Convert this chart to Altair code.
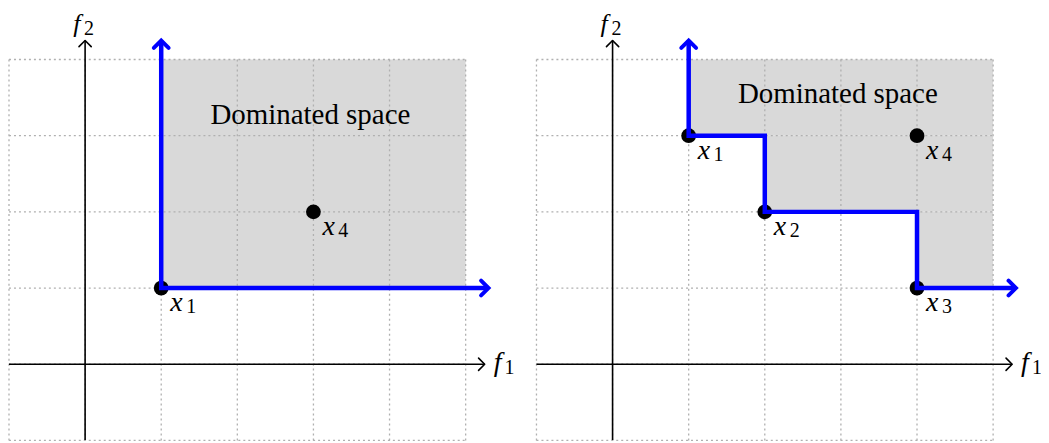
import altair as alt
import pandas as pd

# ---- data ----
grid_x = [-1, 0, 1, 2, 3, 4, 5]
grid_y = [-1, 0, 1, 2, 3, 4]
grid_xmin, grid_xmax = -1, 5
grid_ymin, grid_ymax = -1, 4
axis_end_f1 = 5.25
axis_end_f2 = 4.25

# left panel
left_names = ["1", "4"]
left_f1 = [1, 3]
left_f2 = [1, 2]
left_shade_x1 = [1]
left_shade_x2 = [5]
left_shade_y1 = [1]
left_shade_y2 = [4]
left_front_f1 = [1, 1, 5.3]
left_front_f2 = [4.25, 1, 1]
left_text_pos = (2.96, 3.154)

# right panel
right_names = ["1", "2", "3", "4"]
right_f1 = [1, 2, 4, 4]
right_f2 = [3, 2, 1, 3]
right_shade_x1 = [1, 2, 4]
right_shade_x2 = [5, 5, 5]
right_shade_y1 = [3, 2, 1]
right_shade_y2 = [4, 3, 2]
right_front_f1 = [1, 1, 2, 2, 4, 4, 5.3]
right_front_f2 = [4.25, 3, 3, 2, 2, 1, 1]
right_text_pos = (2.96, 3.43)

label_text = "Dominated space"

UNIT_X = 76.33
UNIT_Y = 76.4
W1, W2, H = 528, 470, 433
YTOP = 4.668
YDOM = [YTOP - H / UNIT_Y, YTOP]
SERIF = "'Liberation Serif', 'DejaVu Serif', 'Times New Roman', serif"
ARROW = "M-1,-1L0,0L-1,1"
MAIN_FS = 28
SUB_FS = 20


def panel(names, f1, f2, sx1, sx2, sy1, sy2, ff1, ff2, tpos, W):
    xs = alt.Scale(domain=[-1, -1 + W / UNIT_X], nice=False, zero=False)
    ys = alt.Scale(domain=YDOM, nice=False, zero=False)

    shade = pd.DataFrame({"x": sx1, "x2": sx2, "y": sy1, "y2": sy2})
    grid = pd.DataFrame(
        {"x": grid_x, "x2": grid_x, "y": [grid_ymin] * len(grid_x), "y2": [grid_ymax] * len(grid_x)}
    )
    grid = pd.concat([grid, pd.DataFrame(
        {"x": [grid_xmin] * len(grid_y), "x2": [grid_xmax] * len(grid_y), "y": grid_y, "y2": grid_y}
    )])
    axes = pd.DataFrame({"x": [-1, 0], "x2": [axis_end_f1, 0], "y": [0, YDOM[0] + 0.005], "y2": [0, axis_end_f2]})
    axis_heads = pd.DataFrame({"x": [axis_end_f1, 0], "y": [0, axis_end_f2], "a": [0, 270]})
    front = pd.DataFrame({"x": ff1, "y": ff2, "o": list(range(len(ff1)))})
    front_heads = pd.DataFrame({"x": [ff1[0], ff1[-1]], "y": [ff2[0], ff2[-1]], "a": [270, 0]})
    pts = pd.DataFrame({"x": f1, "y": f2, "n": names})
    text = pd.DataFrame({"x": [tpos[0]], "y": [tpos[1]], "t": [label_text]})
    axlab = pd.DataFrame({"x": [axis_end_f1, 0], "y": [0, axis_end_f2],
                          "m": ["f", "f"], "s": ["1", "2"]})

    X = lambda f="x": alt.X(f"{f}:Q", scale=xs, axis=None)
    Y = lambda f="y": alt.Y(f"{f}:Q", scale=ys, axis=None)

    l_shade = alt.Chart(shade).mark_rect(color="#d9d9d9").encode(
        x=X(), x2="x2:Q", y=Y(), y2="y2:Q")
    l_grid = alt.Chart(grid).mark_rule(color="#b0b0b0", strokeWidth=1.3, strokeDash=[2, 3]).encode(
        x=X(), x2="x2:Q", y=Y(), y2="y2:Q")
    l_axes = alt.Chart(axes).mark_rule(color="black", strokeWidth=1.6).encode(
        x=X(), x2="x2:Q", y=Y(), y2="y2:Q")
    l_axh = alt.Chart(axis_heads).mark_point(
        shape=ARROW, filled=False, color="black", strokeWidth=1.6, size=150, opacity=1,
        strokeCap="round", strokeJoin="round").encode(
        x=X(), y=Y(), angle=alt.Angle("a:Q", scale=None))
    l_pts = alt.Chart(pts).mark_circle(color="black", size=220, opacity=1).encode(x=X(), y=Y())
    l_front = alt.Chart(front).mark_line(color="#0000ff", strokeWidth=4.5, strokeJoin="miter").encode(
        x=X(), y=Y(), order="o:Q")
    l_fh = alt.Chart(front_heads).mark_point(
        shape=ARROW, filled=False, color="#0000ff", strokeWidth=4, size=220, opacity=1,
        strokeCap="round", strokeJoin="miter").encode(
        x=X(), y=Y(), angle=alt.Angle("a:Q", scale=None))
    l_lab_m = alt.Chart(pts).mark_text(
        text="x", font=SERIF, fontStyle="italic", fontSize=MAIN_FS, align="left",
        baseline="alphabetic", dx=9, dy=23, color="black").encode(x=X(), y=Y())
    l_lab_s = alt.Chart(pts).mark_text(
        font=SERIF, fontSize=SUB_FS, align="left", baseline="alphabetic",
        dx=25, dy=25, color="black").encode(x=X(), y=Y(), text="n:N")
    l_text = alt.Chart(text).mark_text(
        font=SERIF, fontSize=29, align="center", baseline="alphabetic", color="black").encode(
        x=X(), y=Y(), text="t:N")
    ax1 = axlab.iloc[[0]]
    ax2 = axlab.iloc[[1]]
    l_f1m = alt.Chart(ax1).mark_text(font=SERIF, fontStyle="italic", fontSize=MAIN_FS, align="left",
                                     baseline="alphabetic", dx=9, dy=7, color="black").encode(
        x=X(), y=Y(), text="m:N")
    l_f1s = alt.Chart(ax1).mark_text(font=SERIF, fontSize=SUB_FS, align="left",
                                     baseline="alphabetic", dx=20, dy=10, color="black").encode(
        x=X(), y=Y(), text="s:N")
    l_f2m = alt.Chart(ax2).mark_text(font=SERIF, fontStyle="italic", fontSize=26, align="left",
                                     baseline="alphabetic", dx=-12, dy=-8, color="black").encode(
        x=X(), y=Y(), text="m:N")
    l_f2s = alt.Chart(ax2).mark_text(font=SERIF, fontSize=SUB_FS, align="left",
                                     baseline="alphabetic", dx=-1, dy=-5, color="black").encode(
        x=X(), y=Y(), text="s:N")

    return alt.layer(l_shade, l_grid, l_axes, l_axh, l_pts, l_front, l_fh,
                     l_lab_m, l_lab_s, l_text, l_f1m, l_f1s, l_f2m, l_f2s).properties(width=W, height=H)


left = panel(left_names, left_f1, left_f2, left_shade_x1, left_shade_x2, left_shade_y1, left_shade_y2,
             left_front_f1, left_front_f2, left_text_pos, W1)
right = panel(right_names, right_f1, right_f2, right_shade_x1, right_shade_x2, right_shade_y1,
              right_shade_y2, right_front_f1, right_front_f2, right_text_pos, W2)

chart = alt.hconcat(left, right, spacing=0).properties(
    padding={"top": 0, "right": -2, "left": 0, "bottom": 0}
).configure_view(stroke=None)
chart.save("out.html", embed_options={"renderer": "svg", "actions": False})
